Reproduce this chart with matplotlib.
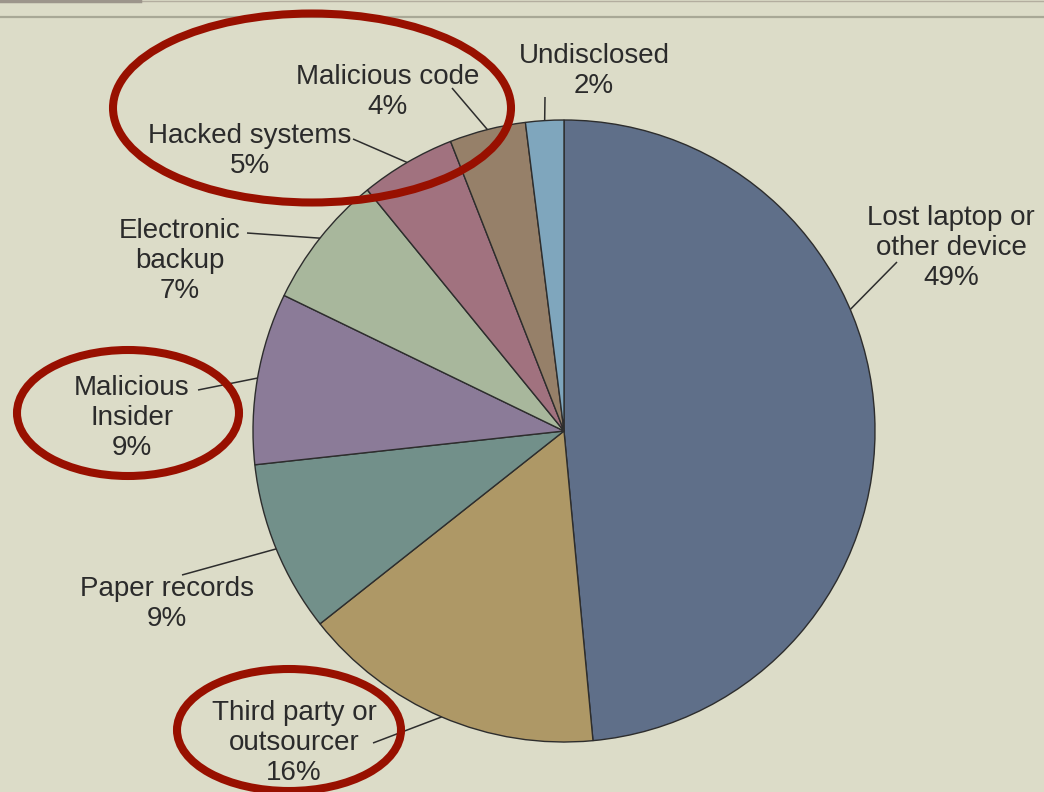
import numpy as np
import matplotlib
matplotlib.use('Agg')
import matplotlib.pyplot as plt
from matplotlib.patches import Ellipse

# data
labels = ['Lost laptop or\nother device', 'Third party or\noutsourcer', 'Paper records',
          'Malicious\nInsider', 'Electronic\nbackup', 'Hacked systems',
          'Malicious code', 'Undisclosed']
shares = [49, 16, 9, 9, 7, 5, 4, 2]
colors = ['#5f6f89', '#ae9866', '#72908a', '#8b7b98', '#a8b79c', '#a1727f', '#968069', '#7fa6bd']

# layout (pixel coords, y down)
CENTER = (564, 431)
RADIUS = 311
text_xy = [(951, 248), (294, 743), (167, 604), (132, 418), (180, 261), (250, 151), (388, 92), (594, 71)]
line_start = [(897, 262), (373, 743), (182, 575), (198, 390), (247, 233), (353, 139), (452, 88), (545, 97)]
anchor_override = {0: -23.0}  # laptop leader does not hit the middle of the wedge

# highlighted labels (red rings)
rings = [((312, 108), 398, 189), ((128, 413), 222, 126), ((289, 730), 224, 122)]

BG = '#dcdcc8'
fig = plt.figure(figsize=(10.44, 7.92), dpi=100, facecolor=BG)
ax = fig.add_axes([0, 0, 1, 1])
ax.set_facecolor(BG)

# y is inverted, so counterclock in data space runs clockwise on screen
wedges, _ = ax.pie(shares, colors=colors, startangle=-90, counterclock=True,
                   center=CENTER, radius=RADIUS, frame=True,
                   wedgeprops=dict(edgecolor='#2d2d2d', linewidth=1.0))

for i, w in enumerate(wedges):
    ang = anchor_override.get(i, (w.theta1 + w.theta2) / 2.0)
    a = np.deg2rad(ang)
    ax_pt = (CENTER[0] + RADIUS * np.cos(a), CENTER[1] + RADIUS * np.sin(a))
    ax.plot([line_start[i][0], ax_pt[0]], [line_start[i][1], ax_pt[1]],
            color='#2d2d2d', lw=1.1, solid_capstyle='butt')
    ax.text(text_xy[i][0], text_xy[i][1], labels[i] + '\n' + f'{shares[i]}%',
            ha='center', va='center', multialignment='center',
            fontsize=20, linespacing=1.22, color='#2b2b2b',
            family=['Liberation Sans', 'DejaVu Sans'])

for c, wd, ht in rings:
    ax.add_patch(Ellipse(c, wd, ht, fill=False, edgecolor='#981000', linewidth=5.8, zorder=5))

# page edges at the top
ax.plot([0, 1044], [0.5, 0.5], color='#b3ad9f', lw=1.0)
ax.plot([0, 140], [1.0, 1.0], color='#9c958b', lw=2.5)
ax.plot([0, 1044], [17, 17], color='#a8a896', lw=1.6)

ax.set_xlim(0, 1044)
ax.set_ylim(792, 0)
ax.set_aspect('auto')
ax.axis('off')

fig.savefig('out.png', dpi=100, facecolor=BG)
